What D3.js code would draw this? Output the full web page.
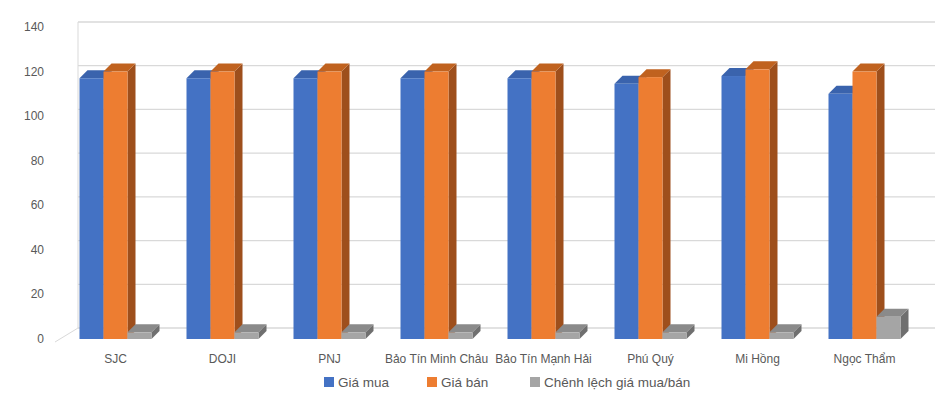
<!DOCTYPE html>
<html><head><meta charset="utf-8">
<script src="https://cdn.jsdelivr.net/npm/d3@7"></script>
<style>body{margin:0;background:#fff;font-family:"Liberation Sans",Arial,sans-serif}</style>
</head><body><svg id="c" width="939" height="406"></svg>
<script>
var categories = ["SJC", "DOJI", "PNJ", "Bảo Tín Minh Châu", "Bảo Tín Mạnh Hải", "Phú Quý", "Mi Hồng", "Ngọc Thẩm"];
var seriesNames = ["Giá mua", "Giá bán", "Chênh lệch giá mua/bán"];
var giaMua = [117, 117, 117, 117, 117, 114.5, 118, 110];
var giaBan = [120, 120, 120, 120, 120, 117.5, 121, 120];
var chenhLech = [3, 3, 3, 3, 3, 3, 3, 10];
var yTicks = [0, 20, 40, 60, 80, 100, 120, 140];

var front = ["#4472c4", "#ed7d31", "#a5a5a5"];
var side = ["#2f5597", "#9e4f1c", "#6f6f6f"];
var top_ = ["#3a63ad", "#c0621f", "#8a8a8a"];
var series = [giaMua, giaBan, chenhLech];

var svg = d3.select("#c");
var y = d3.scaleLinear().domain([0, 140]).range([339, 27]);
var yBack = d3.scaleLinear().domain([0, 140]).range([328, 22]);
var x = d3.scaleBand().domain(categories).range([62, 918]);
var inner = d3.scaleBand().domain([0, 1, 2]).range([0, 72]);
var dx = 8, dy = 8;

yTicks.forEach(function(t) {
  svg.append("line").attr("x1", 78).attr("x2", 935).attr("y1", yBack(t)).attr("y2", yBack(t))
    .attr("stroke", "#d9d9d9").attr("stroke-width", 1.3);
  svg.append("text").attr("x", 44).attr("y", y(t) + 4).attr("text-anchor", "end")
    .attr("font-size", 12).attr("fill", "#595959").text(t);
});
svg.append("line").attr("x1", 78).attr("x2", 78).attr("y1", yBack(140)).attr("y2", yBack(0)).attr("stroke", "#d9d9d9");
svg.append("line").attr("x1", 55).attr("y1", y(0) + 3).attr("x2", 78).attr("y2", yBack(0)).attr("stroke", "#d9d9d9");

categories.forEach(function(c, i) {
  var cx = x(c) + x.bandwidth() / 2 - 36;
  for (var s = 0; s < 3; s++) {
    var v = series[s][i];
    var x0 = cx + inner(s), w = inner.bandwidth(), y0 = y(v), yb = y(0);
    svg.append("path").attr("d", d3.line()([[x0 + w, y0], [x0 + w + dx, y0 - dy], [x0 + w + dx, yb - dy], [x0 + w, yb]])).attr("fill", side[s]);
    svg.append("path").attr("d", d3.line()([[x0, y0], [x0 + dx, y0 - dy], [x0 + w + dx, y0 - dy], [x0 + w, y0]])).attr("fill", top_[s]);
    svg.append("rect").attr("x", x0).attr("y", y0).attr("width", w).attr("height", yb - y0).attr("fill", front[s]);
  }
  svg.append("text").attr("x", x(c) + x.bandwidth() / 2).attr("y", 363).attr("text-anchor", "middle")
    .attr("font-size", 12).attr("fill", "#595959").text(c);
});

var lx = [324, 427, 530];
seriesNames.forEach(function(n, s) {
  svg.append("rect").attr("x", lx[s]).attr("y", 377).attr("width", 10).attr("height", 10).attr("fill", front[s]);
  svg.append("text").attr("x", lx[s] + 14).attr("y", 387).attr("font-size", 13.5).attr("fill", "#595959").text(n);
});
</script></body></html>
